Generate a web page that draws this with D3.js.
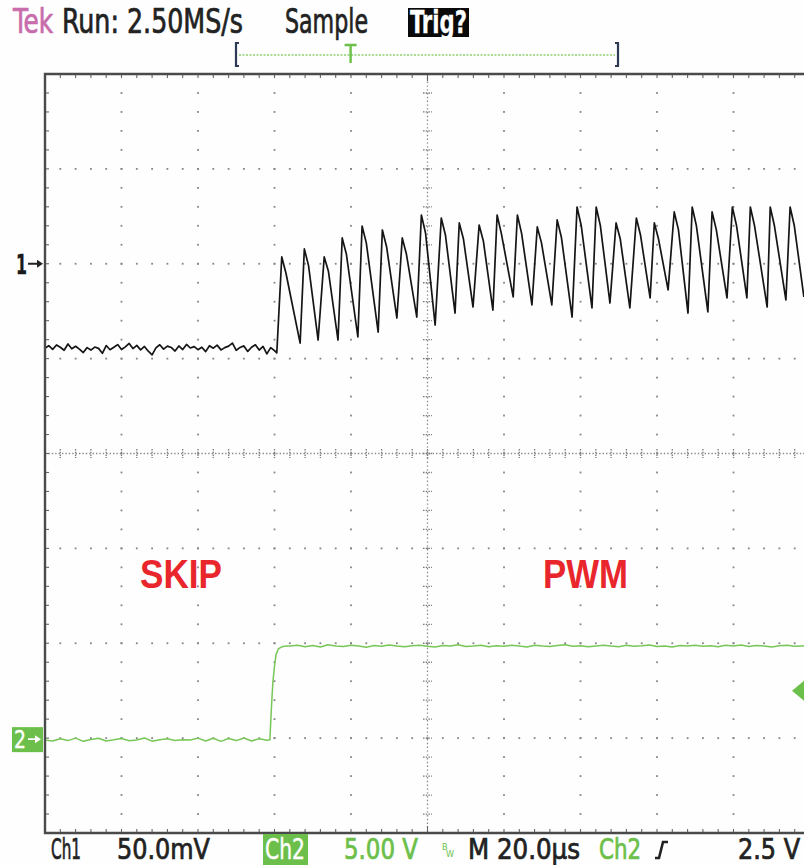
<!DOCTYPE html>
<html><head><meta charset="utf-8">
<script src="https://cdn.jsdelivr.net/npm/d3@7"></script>
<style>body{margin:0;background:#fff}svg{display:block}</style>
</head><body><svg id="c" width="804" height="865"></svg>
<script>
// ---------------- DATA ----------------
const timeDomain = [-60, 140];          // µs, 20 µs/div, trigger at 0
const timeTicks = [-60, -40, -20, 0, 20, 40, 60, 80, 100, 120, 140];
const ch1Domain = [-300, 100];          // mV, 50 mV/div
const ch1Ticks = [-300, -250, -200, -150, -100, -50, 0, 50, 100];
const ch2Domain = [-5, 35];             // V, 5 V/div
const triggerLevel = 2.5;               // V
const triggerFraction = 0.3;            // trigger position in record

// Ch1 in SKIP mode, one sample per µs from -60 to 0 (mV)
const ch1SkipMv = [-44.5,-43.2,-45.1,-42.8,-44.0,-45.6,-42.3,-44.8,-43.5,-45.0,-46.8,-44.2,-45.5,-43.9,-44.6,-47.2,-43.1,-45.3,-44.0,-42.6,-45.2,-43.8,-42.0,-44.7,-43.0,-45.4,-43.6,-46.1,-48.0,-44.3,-42.7,-45.0,-43.4,-44.1,-46.0,-43.3,-45.2,-42.5,-44.4,-43.7,-45.3,-44.0,-46.3,-43.2,-44.5,-42.9,-45.4,-44.2,-43.4,-41.8,-45.6,-44.1,-43.3,-46.2,-44.0,-42.7,-45.5,-43.6,-47.5,-44.2,-45.8];
// Ch1 in PWM mode: ripple troughs, peaks and shoulders after each peak (µs, mV)
const ch1TroughT = [0.6,6.7,11.4,16.6,21.8,27.1,32.0,37.2,42.0,47.2,51.9,57.1,62.4,67.3,72.5,77.8,83.0,87.7,92.9,98.2,102.9,108.1,113.3,118.3,123.5,128.8,133.7,138.4];
const ch1TroughMv = [-47,-41.8,-40.2,-40.2,-38.6,-36.0,-28.6,-28.1,-32.3,-26.0,-22.8,-24.4,-17.5,-21.7,-21.7,-28.1,-23.3,-20.7,-23.3,-18.0,-13.8,-26.0,-25.4,-18.0,-18.0,-22.8,-19.1,-17.5];
const ch1PeakT = [1.9,7.8,13.0,17.7,22.9,28.2,33.4,38.4,43.6,48.3,53.5,58.2,63.5,68.7,73.9,79.1,84.1,89.3,94.6,99.3,104.5,109.2,114.4,119.7,124.4,129.6,134.8];
const ch1PeakMv = [3.6,7.8,3.6,13.6,19.9,17.8,13.6,25.7,24.1,21.5,20.4,25.7,25.7,19.4,23.1,29.9,29.9,21.5,24.1,21.5,27.3,29.9,27.3,29.9,29.9,29.9,29.9];
const ch1ShoulderT = [3.0,8.9,14.1,18.8,24.0,29.3,34.5,39.5,44.7,49.4,54.6,59.3,64.6,69.8,75.0,80.2,85.2,90.4,95.7,100.4,105.6,110.3,115.5,120.8,125.5,130.7,135.9];
const ch1ShoulderMv = [-5,-1,-4,5,11,9,5,16,15,13,12,16,16,11,14,20,20,13,15,13,18,20,18,20,20,20,20];

// Ch2 (mode signal), low part every 2 µs from -60, edge, high part every 2 µs from 4 (V)
const ch2LowV = [-0.1,-0.15,-0.03,-0.13,0.0,-0.17,-0.07,-0.01,-0.15,-0.09,-0.02,-0.14,-0.1,0.01,-0.16,-0.08,-0.03,-0.12,-0.09,-0.1,0.0,-0.15,-0.01,-0.17,-0.02,-0.13,0.01,-0.15,-0.03,-0.11];
const ch2EdgeT = [-1.2,-1.0,-0.7,-0.4,0.0,0.4,1.0,2.0,3.0];
const ch2EdgeV = [-0.08,0.8,2.0,3.0,3.8,4.4,4.7,4.82,4.85];
const ch2HighV = [4.85,4.9,4.82,4.88,4.8,4.92,4.86,4.83,4.9,4.85,4.79,4.88,4.84,4.91,4.86,4.82,4.87,4.9,4.84,4.8,4.88,4.85,4.92,4.83,4.86,4.9,4.81,4.87,4.84,4.89,4.85,4.8,4.9,4.86,4.83,4.88,4.92,4.84,4.87,4.81,4.86,4.9,4.85,4.82,4.89,4.84,4.87,4.91,4.83,4.86,4.8,4.88,4.85,4.9,4.84,4.87,4.82,4.89,4.86,4.91,4.83,4.88,4.85,4.8,4.87,4.9,4.84,4.86,4.88];

const headerTexts = ["Tek", "Run: 2.50MS/s", "Sample", "Trig?"];
const footerTexts = ["Ch1", "50.0mV", "Ch2", "5.00 V", "M 20.0µs", "Ch2", "2.5 V"];
const modeLabels = ["SKIP", "PWM"];

// ---------------- LAYOUT ----------------
const svg = d3.select("#c");
const L = 45, T = 74, R = 810, B = 833;
const x = d3.scaleLinear().domain(timeDomain).range([L, R]);
const y1 = d3.scaleLinear().domain(ch1Domain).range([B, T]);
const y2 = d3.scaleLinear().domain(ch2Domain).range([B, T]);
const FONT = "'DejaVu Sans Condensed','Liberation Sans Narrow','DejaVu Sans',sans-serif";
const GREEN = "#6cbf4a", PINK = "#c86cac", RED = "#e8262c";

svg.append("rect").attr("width", 804).attr("height", 865).attr("fill", "#fdfefd");

function txt(s, x0, x1, base, size, fill, weight, sw) {
  return svg.append("text").attr("x", x0).attr("y", base).text(s)
    .attr("font-family", FONT).attr("font-size", size).attr("fill", fill)
    .attr("font-weight", weight || "normal")
    .attr("stroke", fill).attr("stroke-width", sw === undefined ? 0.7 : sw)
    .attr("textLength", x1 - x0).attr("lengthAdjust", "spacingAndGlyphs");
}

// ---------------- GRATICULE ----------------
const g = svg.append("g");
const minorX = d3.range(timeDomain[0], timeDomain[1] + 0.001, 4);
const minorY = d3.range(ch1Domain[0], ch1Domain[1] + 0.001, 10);
const centerT = 40, centerMv = -100;
const dotC = "#858585";
timeTicks.slice(1, -1).forEach(t => {
  if (t === centerT) return;
  minorY.forEach(v => g.append("rect").attr("x", x(t) - 0.9).attr("y", y1(v) - 0.9)
    .attr("width", 1.8).attr("height", 1.8).attr("fill", dotC));
});
ch1Ticks.slice(1, -1).forEach(v => {
  if (v === centerMv) return;
  minorX.forEach(t => g.append("rect").attr("x", x(t) - 0.9).attr("y", y1(v) - 0.9)
    .attr("width", 1.8).attr("height", 1.8).attr("fill", dotC));
});
g.append("line").attr("x1", x(centerT)).attr("x2", x(centerT)).attr("y1", T).attr("y2", B)
  .attr("stroke", "#8a8a8a").attr("stroke-width", 1.3).attr("stroke-dasharray", "1.4,2.4");
g.append("line").attr("y1", y1(centerMv)).attr("y2", y1(centerMv)).attr("x1", L).attr("x2", 804)
  .attr("stroke", "#8a8a8a").attr("stroke-width", 1.3).attr("stroke-dasharray", "1.4,2.0");
minorY.forEach(v => g.append("line").attr("x1", x(centerT) - 4.5).attr("x2", x(centerT) + 4.5)
  .attr("y1", y1(v)).attr("y2", y1(v)).attr("stroke", "#7a7a7a").attr("stroke-width", 1.3).attr("stroke-dasharray", "1.5,1.2"));
minorX.forEach(t => g.append("line").attr("y1", y1(centerMv) - 4.5).attr("y2", y1(centerMv) + 4.5)
  .attr("x1", x(t)).attr("x2", x(t)).attr("stroke", "#7a7a7a").attr("stroke-width", 1.3).attr("stroke-dasharray", "1.5,1.2"));
minorX.forEach(t => {
  const len = t === centerT ? 7 : 4;
  g.append("line").attr("x1", x(t)).attr("x2", x(t)).attr("y1", T).attr("y2", T + len).attr("stroke", "#666").attr("stroke-width", 1.1);
  g.append("line").attr("x1", x(t)).attr("x2", x(t)).attr("y1", B).attr("y2", B - len).attr("stroke", "#666").attr("stroke-width", 1.1);
});
minorY.forEach(v => g.append("line").attr("x1", L).attr("x2", L + 4).attr("y1", y1(v)).attr("y2", y1(v)).attr("stroke", "#666").attr("stroke-width", 1.1));
g.append("path").attr("d", `M804,${T}H${L}V${B}H804`).attr("fill", "none").attr("stroke", "#4a4a4a").attr("stroke-width", 2.4);

// ---------------- WAVEFORMS ----------------
svg.append("clipPath").attr("id", "clip").append("rect").attr("x", L + 1).attr("y", T).attr("width", 804 - L).attr("height", B - T);
const w = svg.append("g").attr("clip-path", "url(#clip)");

const ch2Pts = [];
ch2LowV.forEach((v, i) => ch2Pts.push([timeDomain[0] + 2 * i, v]));
ch2EdgeT.forEach((t, i) => ch2Pts.push([t, ch2EdgeV[i]]));
ch2HighV.forEach((v, i) => ch2Pts.push([4 + 2 * i, v]));
w.append("path").datum(ch2Pts)
  .attr("d", d3.line().x(d => x(d[0])).y(d => y2(d[1])))
  .attr("fill", "none").attr("stroke", "#78c657").attr("stroke-width", 1.5).attr("stroke-linejoin", "round");

const ch1Pts = [];
ch1SkipMv.forEach((v, i) => ch1Pts.push([timeDomain[0] + i, v]));
ch1TroughT.forEach((t, i) => {
  ch1Pts.push([t, ch1TroughMv[i]]);
  if (i < ch1PeakT.length) {
    ch1Pts.push([ch1PeakT[i], ch1PeakMv[i]]);
    ch1Pts.push([ch1ShoulderT[i], ch1ShoulderMv[i]]);
  }
});
w.append("path").datum(ch1Pts)
  .attr("d", d3.line().x(d => x(d[0])).y(d => y1(d[1])))
  .attr("fill", "none").attr("stroke", "#151515").attr("stroke-width", 1.7).attr("stroke-linejoin", "round");

// ---------------- LABELS ----------------
txt(modeLabels[0], 140, 222, 588, 40, RED, "bold", 0).attr("font-family", "'Liberation Sans',Arial,sans-serif");
txt(modeLabels[1], 543, 628, 588, 40, RED, "bold", 0).attr("font-family", "'Liberation Sans',Arial,sans-serif");

const m1 = y1(0);
txt("1", 16, 27, m1 + 10, 27, "#1a1a1a", "bold", 0.4);
svg.append("path").attr("d", `M28,${m1}H40`).attr("stroke", "#222").attr("stroke-width", 2);
svg.append("path").attr("d", `M43,${m1}L37,${m1 - 4}L37,${m1 + 4}Z`).attr("fill", "#222");
const m2 = y2(0) + 1;
svg.append("rect").attr("x", 12).attr("y", m2 - 12).attr("width", 31).attr("height", 25).attr("fill", GREEN);
txt("2", 14, 26, m2 + 9, 25, "#fff", "normal", 0.4);
svg.append("path").attr("d", `M28,${m2}H38`).attr("stroke", "#fff").attr("stroke-width", 1.8);
svg.append("path").attr("d", `M41,${m2}L35,${m2 - 4}L35,${m2 + 4}Z`).attr("fill", "#fff");
const tl = y2(triggerLevel);
svg.append("path").attr("d", `M792,${tl}L804,${tl - 10}L804,${tl + 10}Z`).attr("fill", GREEN);

// ---------------- HEADER ----------------
txt(headerTexts[0], 13, 53, 33, 34, PINK);
txt(headerTexts[1], 62, 243, 33, 34, "#222");
txt(headerTexts[2], 285, 368, 33, 34, "#222");
svg.append("rect").attr("x", 408).attr("y", 8).attr("width", 61).attr("height", 29).attr("fill", "#0a0a0a");
txt(headerTexts[3], 410, 467, 33, 32, "#fff", "bold", 0.3);
const rb = d3.scaleLinear().domain([0, 1]).range([236, 618]);
svg.append("path").attr("d", `M${rb(0) + 3},43H${rb(0)}V66H${rb(0) + 3}`).attr("fill", "none").attr("stroke", "#2e3a55").attr("stroke-width", 2.2);
svg.append("path").attr("d", `M${rb(1) - 3},43H${rb(1)}V66H${rb(1) - 3}`).attr("fill", "none").attr("stroke", "#2e3a55").attr("stroke-width", 2.2);
svg.append("line").attr("x1", rb(0) + 3).attr("x2", rb(1) - 3).attr("y1", 55).attr("y2", 55)
  .attr("stroke", "#8fd06e").attr("stroke-width", 1.6).attr("stroke-dasharray", "2,1.5");
const tp = rb(triggerFraction);
svg.append("path").attr("d", `M${tp - 6},45H${tp + 6}M${tp},45V63`).attr("stroke", "#6cc04a").attr("stroke-width", 2.4).attr("fill", "none");

// ---------------- FOOTER ----------------
txt(footerTexts[0], 51, 81, 859, 28, "#222");
txt(footerTexts[1], 117, 210, 859, 28, "#222");
svg.append("rect").attr("x", 263).attr("y", 834).attr("width", 45).attr("height", 31).attr("fill", GREEN);
txt(footerTexts[2], 265, 305, 859, 28, "#fff", "normal", 0.4);
txt(footerTexts[3], 344, 418, 859, 28, GREEN);
svg.append("text").attr("x", 442).attr("y", 850).text("B").attr("font-family", FONT).attr("font-size", 9).attr("fill", GREEN);
svg.append("text").attr("x", 446).attr("y", 857).text("W").attr("font-family", FONT).attr("font-size", 9).attr("fill", GREEN);
txt(footerTexts[4], 468, 580, 859, 28, "#222");
txt(footerTexts[5], 599, 641, 859, 28, GREEN);
svg.append("path").attr("d", "M655,858H659L663,842H668").attr("fill", "none").attr("stroke", "#222").attr("stroke-width", 2.6);
txt(footerTexts[6], 738, 800, 859, 28, "#222");
</script></body></html>
